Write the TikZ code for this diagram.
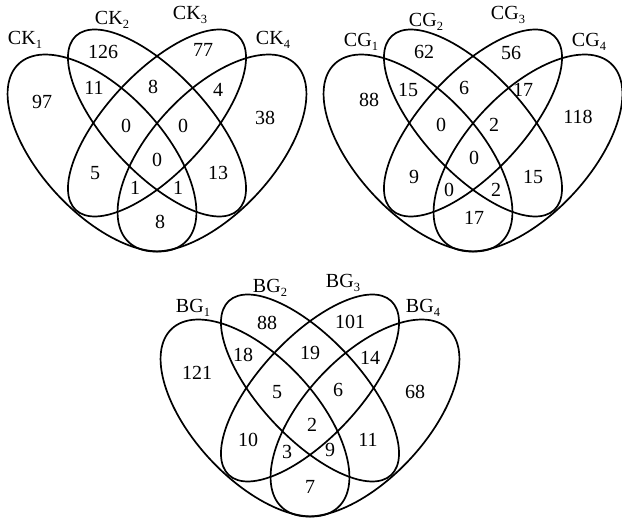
\documentclass[tikz,border=0pt]{standalone}
\usepackage{fontspec}
\setmainfont{Liberation Serif}
\newcommand\vlab[2]{#1\raisebox{-0.4ex}{\fontsize{12.5}{12.5}\selectfont #2}}
\tikzset{
  num/.style={font=\fontsize{20}{23}\selectfont, inner sep=0pt},
  setlab/.style={font=\fontsize{20}{23}\selectfont, inner sep=0pt},
  vline/.style={line width=1.7pt, black},
  vennshapes/.pic={
    \draw[vline, shift={(-55,-30)}, rotate=-47] (0,0) ellipse [x radius=122, y radius=61];
    \draw[vline, rotate=-47] (0,0) ellipse [x radius=119, y radius=50];
    \draw[vline, rotate=47] (0,0) ellipse [x radius=119, y radius=50];
    \draw[vline, shift={(55,-30)}, rotate=47] (0,0) ellipse [x radius=122, y radius=61];
  }
}
\begin{document}
\begin{tikzpicture}[x=1pt,y=1pt]
\useasboundingbox (0,0) rectangle (622,522);
% ---------------- CK ----------------
\begin{scope}[shift={(157,399)}]
  \pic {vennshapes};
  \node[setlab] (ck1) at (-132,83) {\vlab{CK}{1}};
  \node[setlab] (ck2) at (-45,103) {\vlab{CK}{2}};
  \node[setlab] (ck3) at (33,108) {\vlab{CK}{3}};
  \node[setlab] (ck4) at (116,83) {\vlab{CK}{4}};
  \node[num] (k1)  at (-115,21) {97};
  \node[num] (k2)  at (-54,71) {126};
  \node[num] (k12) at (-63,35) {11};
  \node[num] (k23) at (-4,36) {8};
  \node[num] (k3)  at (46,73) {77};
  \node[num] (k34) at (61,33) {4};
  \node[num] (k4)  at (108,5) {38};
  \node[num] (k123) at (-31,-3) {0};
  \node[num] (k234) at (26,-3) {0};
  \node[num] (k1234) at (0,-37) {0};
  \node[num] (k13) at (-62,-50) {5};
  \node[num] (k24) at (61,-50) {13};
  \node[num] (k134) at (-22,-65) {1};
  \node[num] (k124) at (21,-65) {1};
  \node[num] (k14) at (3,-99) {8};
\end{scope}
% ---------------- CG ----------------
\begin{scope}[shift={(473,399)}]
  \pic {vennshapes};
  \node[setlab] (cg1) at (-112,81) {\vlab{CG}{1}};
  \node[setlab] (cg2) at (-47,101) {\vlab{CG}{2}};
  \node[setlab] (cg3) at (35,108) {\vlab{CG}{3}};
  \node[setlab] (cg4) at (116,81) {\vlab{CG}{4}};
  \node[num] (g1)  at (-104,23) {88};
  \node[num] (g2)  at (-49,71) {62};
  \node[num] (g12) at (-65,33) {15};
  \node[num] (g23) at (-9,35) {6};
  \node[num] (g3)  at (38,70) {56};
  \node[num] (g34) at (50,33) {17};
  \node[num] (g4)  at (105,6) {118};
  \node[num] (g123) at (-32,-2) {0};
  \node[num] (g234) at (21,-2) {2};
  \node[num] (g1234) at (1,-35) {0};
  \node[num] (g13) at (-59,-54) {9};
  \node[num] (g24) at (60,-54) {15};
  \node[num] (g134) at (-24,-67) {0};
  \node[num] (g124) at (23,-67) {2};
  \node[num] (g14) at (1,-95) {17};
\end{scope}
% ---------------- BG ----------------
\begin{scope}[shift={(310,134)}]
  \pic {vennshapes};
  \node[setlab] (bg1) at (-117,80) {\vlab{BG}{1}};
  \node[setlab] (bg2) at (-40,100) {\vlab{BG}{2}};
  \node[setlab] (bg3) at (33,105) {\vlab{BG}{3}};
  \node[setlab] (bg4) at (113,80) {\vlab{BG}{4}};
  \node[num] (b1)  at (-113,15) {121};
  \node[num] (b2)  at (-43,65) {88};
  \node[num] (b12) at (-67,33) {18};
  \node[num] (b23) at (0,35) {19};
  \node[num] (b3)  at (40,66) {101};
  \node[num] (b34) at (60,30) {14};
  \node[num] (b4)  at (105,-4) {68};
  \node[num] (b123) at (-33,-4) {5};
  \node[num] (b234) at (28,-2) {6};
  \node[num] (b1234) at (2,-37) {2};
  \node[num] (b13) at (-62,-52) {10};
  \node[num] (b24) at (58,-52) {11};
  \node[num] (b134) at (-23,-64) {3};
  \node[num] (b124) at (20,-62) {9};
  \node[num] (b14) at (0,-99) {7};
\end{scope}
\end{tikzpicture}
\end{document}
